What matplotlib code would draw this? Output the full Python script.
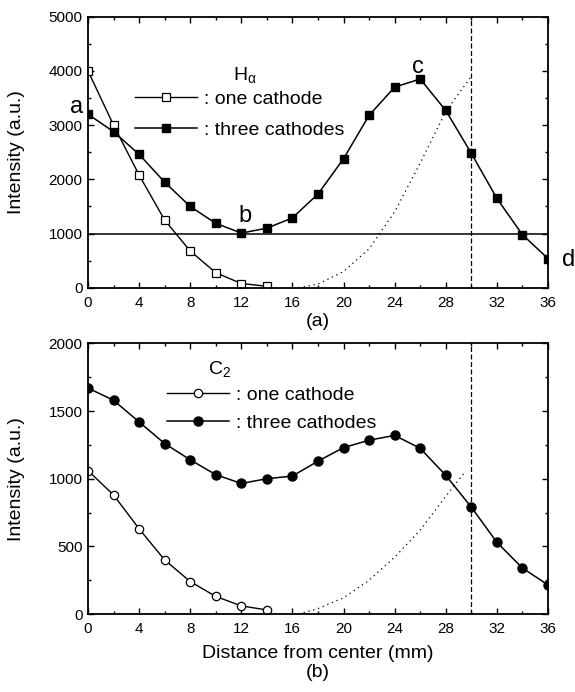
import numpy as np
from matplotlib import pyplot as plt
from matplotlib.ticker import MultipleLocator

plt.rcParams['font.family'] = ['Liberation Sans', 'DejaVu Sans']
plt.rcParams['mathtext.fontset'] = 'custom'
plt.rcParams['mathtext.rm'] = 'Liberation Sans'
plt.rcParams['mathtext.it'] = 'Liberation Sans:italic'

# distance from center (mm)
dist = [0, 2, 4, 6, 8, 10, 12, 14, 16, 18, 20, 22, 24, 26, 28, 30, 32, 34, 36]
dist_one = [0, 2, 4, 6, 8, 10, 12, 14]

# H-alpha intensities
ha_one = [4000, 3000, 2080, 1250, 680, 280, 80, 30]
ha_three = [3200, 2880, 2460, 1950, 1500, 1190, 1010, 1100, 1290, 1730,
            2380, 3180, 3700, 3850, 3270, 2480, 1650, 980, 540]
ha_dot_x = [16.5, 18, 20, 22, 24, 26, 28, 30]
ha_dot_y = [0, 70, 300, 720, 1400, 2300, 3250, 3900]

# C2 intensities
c2_one = [1060, 880, 630, 400, 240, 130, 60, 30]
c2_three = [1670, 1580, 1420, 1260, 1140, 1030, 965, 1000, 1020, 1130,
            1230, 1285, 1320, 1225, 1025, 790, 530, 340, 215]
c2_dot_x = [16.5, 18, 20, 22, 24, 26, 28, 29.5]
c2_dot_y = [0, 40, 120, 250, 420, 620, 870, 1050]


def style_axes(ax, ymax, ymaj):
    ax.set_xlim(0, 36)
    ax.set_ylim(0, ymax)
    ax.xaxis.set_major_locator(MultipleLocator(4))
    ax.xaxis.set_minor_locator(MultipleLocator(2))
    ax.yaxis.set_major_locator(MultipleLocator(ymaj))
    ax.yaxis.set_minor_locator(MultipleLocator(ymaj / 2))
    ax.tick_params(which='both', direction='in', top=True, right=True,
                   labelsize=11, width=1)
    ax.tick_params(axis='x', pad=6)
    ax.tick_params(axis='y', pad=4)
    ax.tick_params(which='major', length=4)
    ax.tick_params(which='minor', length=2)
    for sp in ax.spines.values():
        sp.set_linewidth(1.3)
    ax.set_ylabel("Intensity (a.u.)", fontsize=14)
    ax.yaxis.set_label_coords(-0.137, 0.5)


fig = plt.figure(figsize=(5.75, 6.92), dpi=100)
ax1 = fig.add_axes([0.153, 0.584, 0.800, 0.392])
ax2 = fig.add_axes([0.153, 0.1127, 0.800, 0.391])

# ---- (a) H alpha ----
ax1.axhline(1000, color='k', lw=1.1)
ax1.axvline(30, color='k', lw=0.9, ls=(0, (4, 2)))
ax1.plot(ha_dot_x, ha_dot_y, color='k', lw=0.9, ls=(0, (1, 3)))
l1, = ax1.plot(dist_one, ha_one, color='k', lw=1, marker='s', ms=5.5,
               mfc='white', mec='k', mew=0.9, label=': one cathode')
l2, = ax1.plot(dist, ha_three, color='k', lw=1.1, marker='s', ms=6,
               mfc='k', mec='k', label=': three cathodes')
style_axes(ax1, 5000, 1000)
ax1.legend(handles=[l1, l2], loc='upper left', bbox_to_anchor=(0.102, 0.727),
           frameon=False, fontsize=14, handlelength=3.2, handletextpad=0.35,
           labelspacing=0.66, borderpad=0, borderaxespad=0)
ax1.text(0.341, 0.786, 'H$_{\\mathrm{α}}$', transform=ax1.transAxes,
         ha='center', va='center', fontsize=14)
for txt, xx, yy in [('a', -0.9, 3330), ('b', 12.3, 1330),
                    ('c', 25.8, 4080), ('d', 37.6, 520)]:
    ax1.text(xx, yy, txt, fontsize=17, ha='center', va='center', clip_on=False)
ax1.text(0.5, -0.125, '(a)', transform=ax1.transAxes, ha='center',
         va='center', fontsize=14)

# ---- (b) C2 ----
ax2.axvline(30, color='k', lw=0.9, ls=(0, (4, 2)))
ax2.plot(c2_dot_x, c2_dot_y, color='k', lw=0.9, ls=(0, (1, 3)))
m1, = ax2.plot(dist_one, c2_one, color='k', lw=1, marker='o', ms=6,
               mfc='white', mec='k', mew=0.9, label=': one cathode')
m2, = ax2.plot(dist, c2_three, color='k', lw=1.1, marker='o', ms=6.5,
               mfc='k', mec='k', label=': three cathodes')
style_axes(ax2, 2000, 500)
ax2.legend(handles=[m1, m2], loc='upper left', bbox_to_anchor=(0.172, 0.842),
           frameon=False, fontsize=14, handlelength=3.2, handletextpad=0.35,
           labelspacing=0.55, borderpad=0, borderaxespad=0)
ax2.text(0.287, 0.905, 'C$_{\\mathrm{2}}$', transform=ax2.transAxes,
         ha='center', va='center', fontsize=14)
ax2.set_xlabel("Distance from center (mm)", fontsize=14)
ax2.xaxis.set_label_coords(0.5, -0.115)
ax2.text(0.5, -0.216, '(b)', transform=ax2.transAxes, ha='center',
         va='center', fontsize=14)

fig.savefig("out.png", dpi=100)
